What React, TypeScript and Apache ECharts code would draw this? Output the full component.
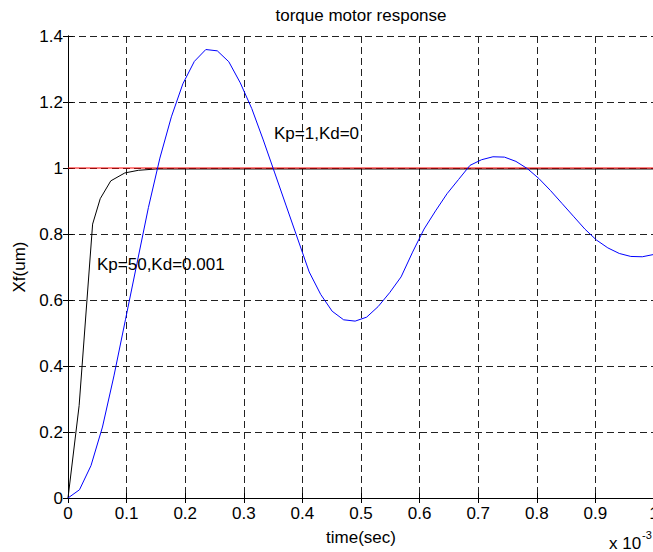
import React, { useEffect, useRef } from "react";
import * as echarts from "echarts";

// time axis in units of 1e-3 s
const xTicks = [0, 0.1, 0.2, 0.3, 0.4, 0.5, 0.6, 0.7, 0.8, 0.9, 1];
const yTicks = [0, 0.2, 0.4, 0.6, 0.8, 1, 1.2, 1.4];

// Kp=1, Kd=0 (blue, underdamped)
const blueTime = [
  0, 0.0196, 0.0392, 0.0588, 0.0784, 0.098, 0.1176, 0.1372, 0.1568, 0.1764,
  0.196, 0.2156, 0.2352, 0.2548, 0.2744, 0.294, 0.3136, 0.3332, 0.3528, 0.3724,
  0.392, 0.4116, 0.4312, 0.4508, 0.4704, 0.49, 0.5096, 0.5292, 0.5488, 0.5684,
  0.588, 0.6076, 0.6272, 0.6468, 0.6664, 0.686, 0.7056, 0.7252, 0.7448, 0.7644,
  0.784, 0.8036, 0.8232, 0.8428, 0.8624, 0.882, 0.9016, 0.9212, 0.9408, 0.9604,
  0.98, 0.9996,
];
const blueValues = [
  0, 0.025, 0.098, 0.215, 0.37, 0.54, 0.71, 0.88, 1.03, 1.155,
  1.255, 1.323, 1.359, 1.355, 1.322, 1.258, 1.18, 1.085, 0.985, 0.885,
  0.785, 0.685, 0.617, 0.566, 0.54, 0.536, 0.548, 0.58, 0.622, 0.67,
  0.745, 0.815, 0.87, 0.922, 0.965, 1.008, 1.025, 1.034, 1.033, 1.02,
  0.998, 0.968, 0.932, 0.893, 0.854, 0.815, 0.782, 0.758, 0.741, 0.732,
  0.731, 0.738,
];

// Kp=50, Kd=0.001 (black, fast)
const blackTime = [0, 0.019, 0.042, 0.055, 0.073, 0.097, 0.12, 0.15, 0.2, 1];
const blackValues = [0, 0.28, 0.83, 0.907, 0.961, 0.985, 0.993, 0.997, 0.997, 0.997];

// reference (red)
const refTime = [0, 1];
const refValues = [1, 1];

const FONT = "'Liberation Sans', Arial, Helvetica, sans-serif";

export default function App() {
  const ref = useRef<HTMLDivElement>(null);
  useEffect(() => {
    if (!ref.current) return;
    const chart = echarts.init(ref.current, null, { renderer: "svg" });
    const axisLine = { show: true, lineStyle: { color: "#000", width: 1 } };
    const tick = { show: true, inside: true, length: 5, lineStyle: { color: "#000" } };
    const split = { show: true, lineStyle: { color: "#222", type: [7, 4], width: 1 } };
    const option: any = {
      animation: false,
      textStyle: { fontFamily: FONT },
      grid: {
        left: 68,
        top: 36,
        width: 586,
        height: 462,
        containLabel: false,
        outerBoundsMode: "none",
      },
      xAxis: [
        {
          type: "value",
          position: "bottom",
          min: xTicks[0],
          max: xTicks[xTicks.length - 1],
          interval: 0.1,
          axisLine,
          axisTick: tick,
          splitLine: split,
          axisLabel: { color: "#000", fontSize: 17, fontFamily: FONT, margin: 7 },
          name: "time(sec)",
          nameLocation: "middle",
          nameGap: 31,
          nameTextStyle: { color: "#000", fontSize: 17, fontFamily: FONT },
        },
        {
          type: "value",
          position: "top",
          min: xTicks[0],
          max: xTicks[xTicks.length - 1],
          interval: 0.1,
          axisLine,
          axisTick: tick,
          splitLine: { show: false },
          axisLabel: { show: false },
        },
      ],
      yAxis: [
        {
          type: "value",
          position: "left",
          min: yTicks[0],
          max: yTicks[yTicks.length - 1],
          interval: 0.2,
          axisLine,
          axisTick: tick,
          splitLine: split,
          axisLabel: { color: "#000", fontSize: 17, fontFamily: FONT, margin: 5 },
          name: "Xf(um)",
          nameLocation: "middle",
          nameGap: 34,
          nameRotate: 90,
          nameTextStyle: { color: "#000", fontSize: 17, fontFamily: FONT },
        },
        {
          type: "value",
          position: "right",
          min: yTicks[0],
          max: yTicks[yTicks.length - 1],
          interval: 0.2,
          axisLine,
          axisTick: tick,
          splitLine: { show: false },
          axisLabel: { show: false },
        },
      ],
      series: [
        {
          type: "line",
          name: "Kp=50,Kd=0.001",
          data: blackTime.map((t, i) => [t, blackValues[i]]),
          showSymbol: false,
          lineStyle: { color: "#000", width: 1 },
          z: 3,
        },
        {
          type: "line",
          name: "reference",
          data: refTime.map((t, i) => [t, refValues[i]]),
          showSymbol: false,
          lineStyle: { color: "#ff0000", width: 1 },
          z: 4,
        },
        {
          type: "line",
          name: "Kp=1,Kd=0",
          data: blueTime.map((t, i) => [t, blueValues[i]]),
          showSymbol: false,
          lineStyle: { color: "#0000ff", width: 1 },
          z: 5,
        },
      ],
      graphic: [
        {
          type: "text",
          x: 361,
          y: 15,
          style: {
            text: "torque motor response",
            fill: "#000",
            font: `17px ${FONT}`,
            textAlign: "center",
            textVerticalAlign: "middle",
          },
        },
        {
          type: "text",
          x: 274,
          y: 133,
          z: 10,
          style: {
            text: "Kp=1,Kd=0",
            fill: "#000",
            font: `17px ${FONT}`,
            textAlign: "left",
            textVerticalAlign: "middle",
          },
        },
        {
          type: "text",
          x: 97,
          y: 264,
          z: 10,
          style: {
            text: "Kp=50,Kd=0.001",
            fill: "#000",
            font: `17px ${FONT}`,
            textAlign: "left",
            textVerticalAlign: "middle",
          },
        },
        {
          type: "text",
          x: 609,
          y: 543,
          style: {
            text: "x 10",
            fill: "#000",
            font: `17px ${FONT}`,
            textAlign: "left",
            textVerticalAlign: "middle",
          },
        },
        {
          type: "text",
          x: 642,
          y: 535,
          style: {
            text: "-3",
            fill: "#000",
            font: `11px ${FONT}`,
            textAlign: "left",
            textVerticalAlign: "middle",
          },
        },
      ],
    };
    chart.setOption(option);
    return () => chart.dispose();
  }, []);
  return (
    <div
      ref={ref}
      style={{ position: "fixed", left: 0, top: 0, width: 653, height: 552, background: "#fff" }}
    />
  );
}
